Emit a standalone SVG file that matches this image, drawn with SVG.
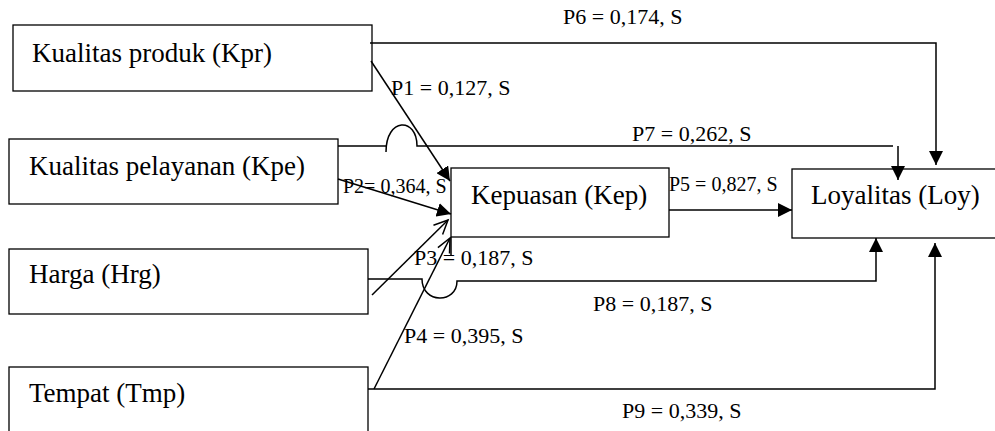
<svg xmlns="http://www.w3.org/2000/svg" width="995" height="431" viewBox="0 0 995 431">
<style>
.box{fill:#fff;stroke:#000;stroke-width:1.3}
.nt{font-family:"Liberation Serif","Times New Roman",serif;font-size:27px;fill:#000}
.lb{font-family:"Liberation Serif","Times New Roman",serif;font-size:22px;fill:#000}
.sm{font-size:20px}
.ln{fill:none;stroke:#000;stroke-width:1.5}
</style>
<defs>
<marker id="fa" markerUnits="userSpaceOnUse" markerWidth="15" markerHeight="14" refX="14" refY="7" orient="auto">
<path d="M0,0 L14,7 L0,14 z" fill="#000"/>
</marker>
<marker id="oa" markerUnits="userSpaceOnUse" markerWidth="18" markerHeight="16" refX="15" refY="8" orient="auto">
<path d="M1,1.5 L15,8 L1,14.5" fill="none" stroke="#000" stroke-width="1.5"/>
</marker>
</defs>
<rect width="995" height="431" fill="#fff"/>
<g id="kpr">
<rect class="box" x="13" y="25" width="359" height="66"/>
<text class="nt" x="32" y="62">Kualitas produk (Kpr)</text>
</g>
<g id="kpe">
<rect class="box" x="9" y="139" width="329" height="65"/>
<text class="nt" x="29" y="175">Kualitas pelayanan (Kpe)</text>
</g>
<g id="hrg">
<rect class="box" x="9" y="249" width="359" height="65"/>
<text class="nt" x="29" y="283">Harga (Hrg)</text>
</g>
<g id="tmp">
<rect class="box" x="9" y="367" width="359" height="80"/>
<text class="nt" x="29" y="402">Tempat (Tmp)</text>
</g>
<g id="kep">
<rect class="box" x="451" y="168" width="218" height="69"/>
<text class="nt" x="471" y="204">Kepuasan (Kep)</text>
</g>
<g id="loy">
<rect class="box" x="792" y="169" width="220" height="69"/>
<text class="nt" x="811" y="204">Loyalitas (Loy)</text>
</g>
<g id="connectors">
<path class="ln" d="M370,43 H936 V165" marker-end="url(#fa)"/>
<path class="ln" d="M371,61 L450,181" marker-end="url(#fa)"/>
<path class="ln" d="M338,146 H386 M386,152 C386,117 417,117 417,146 H893"/>
<path class="ln" d="M898,146 L898,180" marker-end="url(#fa)"/>
<path class="ln" d="M338,179 L451,214" marker-end="url(#fa)"/>
<path class="ln" d="M669,210 H792" marker-end="url(#fa)"/>
<path class="ln" d="M372,295 L448,220" marker-end="url(#oa)"/>
<path class="ln" d="M374,389 L450,238" marker-end="url(#oa)"/>
<path class="ln" d="M368,279 H422 C422,304 457,304 457,281 H876 V238" marker-end="url(#fa)"/>
<path class="ln" d="M368,389 H935 V243" marker-end="url(#fa)"/>
<path class="ln" d="M451,237 V255" stroke-width="1.3"/>
</g>
<g id="labels">
<text class="lb" x="563" y="24">P6 = 0,174, S</text>
<text class="lb" x="391" y="95">P1 = 0,127, S</text>
<text class="lb" x="632" y="141">P7 = 0,262, S</text>
<text class="lb sm" x="343" y="193">P2= 0,364, S</text>
<text class="lb sm" x="669" y="191">P5 = 0,827, S</text>
<text class="lb" x="414" y="265">P3 = 0,187, S</text>
<text class="lb" x="593" y="311">P8 = 0,187, S</text>
<text class="lb" x="404" y="343">P4 = 0,395, S</text>
<text class="lb" x="622" y="418">P9 = 0,339, S</text>
</g>
</svg>
